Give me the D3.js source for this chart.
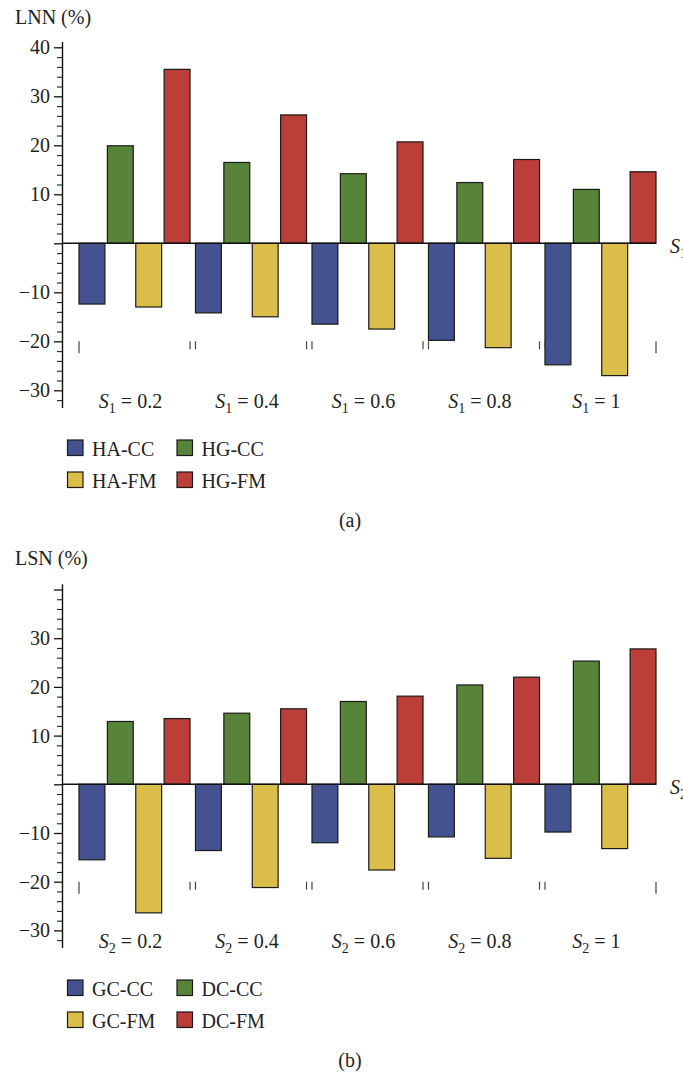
<!DOCTYPE html>
<html>
<head>
<meta charset="utf-8">
<script src="https://cdn.jsdelivr.net/npm/d3@7/dist/d3.min.js"></script>
<style>
  html, body { margin: 0; padding: 0; background: #fff; }
  svg { display: block; font-family: "Liberation Serif", "Times New Roman", serif; }
</style>
</head>
<body>
<svg id="fig" width="683" height="1072"></svg>
<script>
// Group labels (S value for each cluster)
const groupValues = ["0.2", "0.4", "0.6", "0.8", "1"];

// Panel (a): LNN (%) for varying S1
const seriesA = ["HA-CC", "HG-CC", "HA-FM", "HG-FM"];
const haCC = [-12.4, -14.2, -16.5, -19.8, -24.8];
const hgCC = [19.9, 16.5, 14.2, 12.4, 11.0];
const haFM = [-13.0, -15.0, -17.5, -21.3, -27.0];
const hgFM = [35.5, 26.2, 20.7, 17.1, 14.6];
const ticksA = [-30, -20, -10, 10, 20, 30, 40];

// Panel (b): LSN (%) for varying S2
const seriesB = ["GC-CC", "DC-CC", "GC-FM", "DC-FM"];
const gcCC = [-15.5, -13.6, -12.0, -10.8, -9.8];
const dcCC = [12.9, 14.6, 17.0, 20.4, 25.3];
const gcFM = [-26.4, -21.2, -17.6, -15.2, -13.2];
const dcFM = [13.5, 15.5, 18.1, 22.0, 27.8];
const ticksB = [-30, -20, -10, 10, 20, 30];

const colors = ["#44528f", "#578439", "#dbbd4a", "#bb3e38"];

const svg = d3.select("#fig");
const FONT = 20;

function drawPanel(opts) {
  const g = svg.append("g");
  const { series, values, yTitle, subscript, zeroY, pxPerUnit, tickLabels, caption, captionY, legendTop } = opts;

  const yMin = -33.5, yMax = 41.2;
  const y = d3.scaleLinear()
    .domain([yMin, yMax])
    .range([zeroY - yMin * pxPerUnit, zeroY - yMax * pxPerUnit]);

  const x0 = d3.scaleBand().domain(groupValues).range([79, 656]).paddingInner(0.047).paddingOuter(0);
  const x1 = d3.scaleBand().domain(series).range([0, x0.bandwidth()]).paddingInner(0.088).paddingOuter(0);

  // Bars
  const rows = [];
  groupValues.forEach((gv, gi) => {
    series.forEach((s, si) => rows.push({ group: gv, series: s, si, value: values[si][gi] }));
  });
  g.append("g").selectAll("rect").data(rows).join("rect")
    .attr("x", d => x0(d.group) + x1(d.series))
    .attr("width", x1.bandwidth())
    .attr("y", d => y(Math.max(0, d.value)))
    .attr("height", d => Math.abs(y(d.value) - y(0)))
    .attr("fill", d => colors[d.si])
    .attr("stroke", "#1a1a1a")
    .attr("stroke-width", 1.2);

  // Horizontal zero line
  g.append("line")
    .attr("x1", 62).attr("x2", x0.range()[1])
    .attr("y1", y(0)).attr("y2", y(0))
    .attr("stroke", "#111").attr("stroke-width", 1.4);

  // Y axis: minor ticks every 2 units
  const minor = d3.range(-32, 42, 2).filter(v => v % 10 !== 0);
  const minorAxis = d3.axisLeft(y).tickValues(minor).tickSize(5).tickFormat("");
  const gm = g.append("g").attr("transform", "translate(62,0)").call(minorAxis);
  gm.select(".domain").remove();
  gm.selectAll("line").attr("stroke", "#222").attr("stroke-width", 1.1);

  // Y axis: major ticks with labels
  const majorVals = d3.range(-30, 50, 10);
  const majorAxis = d3.axisLeft(y).tickValues(majorVals).tickSize(8).tickSizeOuter(0).tickPadding(4)
    .tickFormat(v => tickLabels.includes(v) ? d3.format("")(v) : "");
  const ga = g.append("g").attr("transform", "translate(62,0)").call(majorAxis);
  ga.select(".domain").attr("stroke", "#111").attr("stroke-width", 1.4);
  ga.selectAll("line").attr("stroke", "#111").attr("stroke-width", 1.3);
  ga.selectAll("text").attr("font-size", FONT).attr("font-family", "Liberation Serif").attr("fill", "#222");

  // Y title
  g.append("text").attr("x", 15).attr("y", zeroY - 219.3)
    .attr("font-size", FONT).attr("fill", "#222").text(yTitle);

  // X title at the right end of the zero line
  const xt = g.append("text").attr("x", 670).attr("y", y(0) + 10)
    .attr("font-size", FONT).attr("fill", "#222");
  xt.append("tspan").attr("font-style", "italic").text("S");
  xt.append("tspan").attr("font-size", 14).attr("dy", 5).text(subscript);

  // Group boundary ticks
  const bTop = y(-20);
  groupValues.forEach((gv, gi) => {
    const left = x0(gv), right = left + x0.bandwidth();
    [[left, gi === 0], [right, gi === groupValues.length - 1]].forEach(([xx, outer]) => {
      g.append("line")
        .attr("x1", xx).attr("x2", xx)
        .attr("y1", bTop).attr("y2", bTop + (outer ? 12 : 8))
        .attr("stroke", "#444").attr("stroke-width", 1.2);
    });
  });

  // Group labels
  groupValues.forEach(gv => {
    const t = g.append("text")
      .attr("x", x0(gv) + x0.bandwidth() / 2 - 4)
      .attr("y", y(yMin) + 0.3)
      .attr("text-anchor", "middle")
      .attr("font-size", FONT).attr("fill", "#222");
    t.append("tspan").attr("font-style", "italic").text("S");
    t.append("tspan").attr("font-size", 14).attr("dy", 5).text(subscript);
    t.append("tspan").attr("dy", -5).text(" = " + gv);
  });

  // Legend (2 x 2)
  const legendPos = [[0, 0], [1, 0], [0, 1], [1, 1]];
  series.forEach((s, i) => {
    const [c, r] = legendPos[i];
    const lx = 67.5 + c * 109.5;
    const ly = legendTop + r * 32;
    g.append("rect").attr("x", lx).attr("y", ly).attr("width", 15.5).attr("height", 15.5)
      .attr("fill", colors[i]).attr("stroke", "#1a1a1a").attr("stroke-width", 1.2);
    g.append("text").attr("x", lx + 24.5).attr("y", ly + 15.5)
      .attr("font-size", FONT).attr("fill", "#222").text(s);
  });

  // Caption
  g.append("text").attr("x", 350).attr("y", captionY).attr("text-anchor", "middle")
    .attr("font-size", FONT).attr("fill", "#222").text(caption);
}

drawPanel({
  series: seriesA, values: [haCC, hgCC, haFM, hgFM],
  yTitle: "LNN (%)", subscript: "1",
  zeroY: 243.3, pxPerUnit: 4.9, tickLabels: ticksA,
  caption: "(a)", captionY: 526.5, legendTop: 440
});

drawPanel({
  series: seriesB, values: [gcCC, dcCC, gcFM, dcFM],
  yTitle: "LSN (%)", subscript: "2",
  zeroY: 784.3, pxPerUnit: 4.87, tickLabels: ticksB,
  caption: "(b)", captionY: 1066.5, legendTop: 980
});
</script>
</body>
</html>
